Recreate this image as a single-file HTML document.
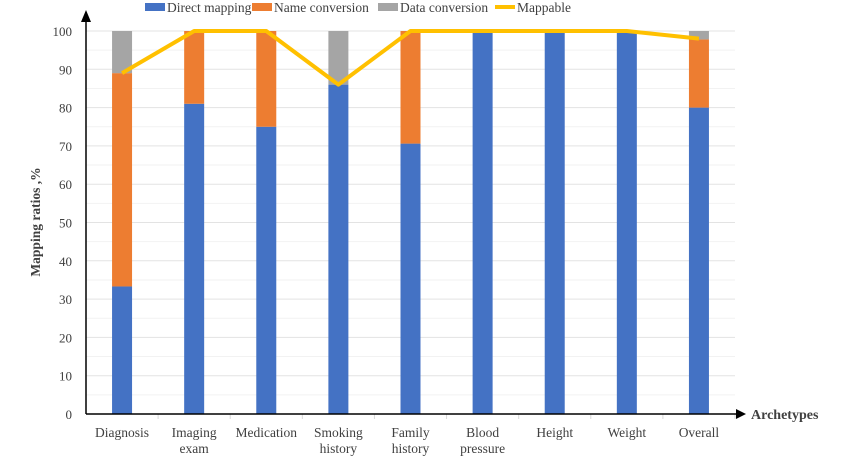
<!DOCTYPE html>
<html><head><meta charset="utf-8"><style>
body{margin:0;background:#fff;}
svg text{font-family:"Liberation Serif",serif;fill:#404040;}
</style></head><body>
<svg id="chart" width="850" height="461"></svg>
<script>
const categories=[["Diagnosis"],["Imaging","exam"],["Medication"],["Smoking","history"],["Family","history"],["Blood","pressure"],["Height"],["Weight"],["Overall"]];
const directMapping=[33.3,81,75,86,70.6,100,100,100,80];
const nameConversion=[55.7,19,25,0,29.4,0,0,0,17.8];
const dataConversion=[11,0,0,14,0,0,0,0,2.2];
const mappable=[89,100,100,86,100,100,100,100,98];
const yTicks=[0,10,20,30,40,50,60,70,80,90,100];
const NS="http://www.w3.org/2000/svg";
const svg=document.getElementById('chart');
const x0=86,x1=735,yb=414,yt=31;
const slot=(x1-x0)/categories.length;
const X=i=>x0+slot*(i+0.5);
const Y=v=>yb-(yb-yt)*v/100;
function mk(t,a,p){const e=document.createElementNS(NS,t);for(const k in a)e.setAttribute(k,a[k]);(p||svg).appendChild(e);return e;}
// grid
for(let v=5;v<=100;v+=5){const g=mk('line',{x1:x0,x2:x1,y1:Y(v),y2:Y(v),stroke:v%10?'#f2f2f2':'#e3e3e3','stroke-width':1});

}
yTicks.forEach(v=>{const t=mk('text',{x:72,y:Y(v)+5,'text-anchor':'end','font-size':13});t.textContent=v;

});
// bars
const colors=['#4472c4','#ed7d31','#a5a5a5'];
const series=[directMapping,nameConversion,dataConversion];
categories.forEach((c,i)=>{let base=0;series.forEach((s,k)=>{if(s[i]>0){const r=mk('rect',{x:X(i)-10,y:Y(base+s[i]),width:20,height:Y(base)-Y(base+s[i]),fill:colors[k]});

}base+=s[i];});
c.forEach((ln,j)=>{const t=mk('text',{x:X(i),y:437+j*16,'text-anchor':'middle','font-size':13.5});t.textContent=ln;

});
const tk=mk('line',{x1:x0+slot*(i+1),x2:x0+slot*(i+1),y1:yb,y2:yb+5,stroke:'#d9d9d9'});

});
// line
const pl=mk('polyline',{points:mappable.map((v,i)=>X(i)+','+Y(v)).join(' '),fill:'none',stroke:'#ffc000','stroke-width':4,'stroke-linejoin':'round'});


// axes
const ax=mk('line',{x1:x0,x2:x0,y1:yb,y2:20,stroke:'#000','stroke-width':1.5});


const ah=mk('polygon',{points:`${x0-5},22 ${x0+5},22 ${x0},10`,fill:'#000'});


const bx=mk('line',{x1:x0,x2:738,y1:yb,y2:yb,stroke:'#000','stroke-width':1.5});


const bh=mk('polygon',{points:`736,${yb-5} 736,${yb+5} 746,${yb}`,fill:'#000'});


const xt=mk('text',{x:751,y:yb+5,'font-size':14,'font-weight':'bold'});xt.textContent='Archetypes';


const yt2=mk('text',{x:40,y:222,'font-size':13.5,'font-weight':'bold','text-anchor':'middle',transform:'rotate(-90 40 222)'});yt2.textContent='Mapping ratios ,%';


// legend
const leg=[['Direct mapping','#4472c4',145,'rect'],['Name conversion','#ed7d31',252,'rect'],['Data conversion','#a5a5a5',378,'rect'],['Mappable','#ffc000',495,'line']];
leg.forEach(l=>{let m;if(l[3]==='rect')m=mk('rect',{x:l[2],y:3,width:20,height:8,fill:l[1]});else m=mk('line',{x1:l[2],x2:l[2]+20,y1:7,y2:7,stroke:l[1],'stroke-width':4});


const t=mk('text',{x:l[2]+22,y:12,'font-size':13.5});t.textContent=l[0];

});
</script>
</body></html>
